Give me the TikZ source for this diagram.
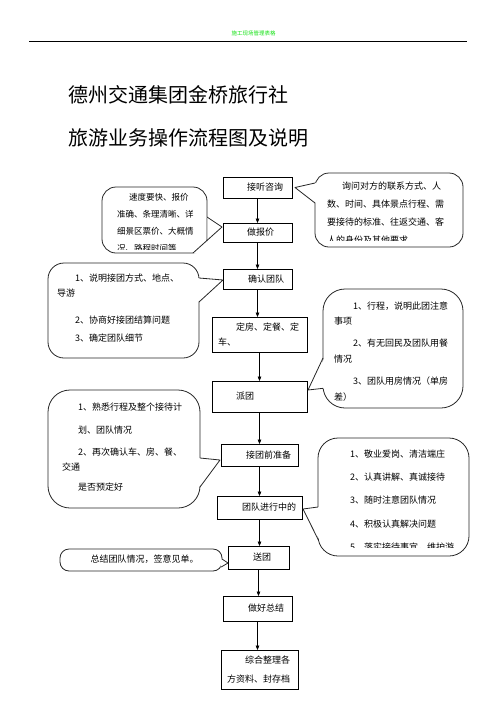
\documentclass[tikz,border=0pt]{standalone}
\usepackage{fontspec}
\setmainfont{Noto Sans CJK SC}
\usetikzlibrary{arrows.meta,calc}
\definecolor{headgreen}{RGB}{20,225,20}
\newcommand{\boxfont}{\fontsize{9}{15}\selectfont}
\newcommand{\bubfont}{\fontsize{9}{15.5}\selectfont}
\tikzset{
  flowbox/.style={draw=black, line width=0.8pt, inner xsep=6pt, inner ysep=0pt, outer sep=0pt, align=left, font=\boxfont},
  bubble/.style={draw=black!85, line width=0.8pt, fill=white, inner sep=0pt, outer sep=0pt},
  bubtext/.style={anchor=north west, inner sep=0pt, align=left, font=\bubfont},
  tipline/.style={draw=black!85, line width=0.8pt, line join=round},
  flowarrow/.style={line width=0.7pt, -{Triangle[length=4.5pt,width=3.6pt]}},
  titletext/.style={anchor=west, inner sep=0pt, font=\fontsize{20}{20}\selectfont}
}
\begin{document}
\begin{tikzpicture}[x=1pt,y=-1pt]
  \useasboundingbox (0,0) rectangle (496,702);

  % header and titles
  \node[font=\fontsize{5.5}{6}\selectfont, text=headgreen, inner sep=0pt] (headtext) at (253.5,33) {施工现场管理表格};
  \draw[line width=0.7pt] (29,41) -- (467,41);
  \node[titletext] (title1) at (68,95) {德州交通集团金桥旅行社};
  \node[titletext] (title2) at (68,138) {旅游业务操作流程图及说明};

  % flow boxes
  \node[flowbox, text width=57pt, minimum height=21pt] (ask) at (257.5,187.5) {\hspace*{18pt}接听咨询};
  \node[flowbox, text width=57pt, minimum height=19pt] (price) at (257.5,232.5) {\hspace*{18pt}做报价};
  \node[flowbox, text width=57pt, minimum height=20pt] (confirm) at (257.5,279) {\hspace*{19pt}确认团队};
  \node[flowbox, text width=83pt, minimum height=35pt] (book) at (259.5,334.5) {\hspace*{18pt}定房、定餐、定\\车、};
  \node[flowbox, text width=83pt, minimum height=31pt] (dispatch) at (259.5,396.5) {\hspace*{18pt}派团};
  \node[flowbox, text width=65pt, minimum height=22pt] (prepare) at (259.5,455) {\hspace*{19pt}接团前准备};
  \node[flowbox, text width=73pt, minimum height=23pt] (ongoing) at (259.5,507.5) {\hspace*{19pt}团队进行中的};
  \node[flowbox, text width=49pt, minimum height=23pt] (send) at (258.5,557.5) {\hspace*{19pt}送团};
  \node[flowbox, text width=57pt, minimum height=25pt] (summary) at (257.5,608.5) {\hspace*{19pt}做好总结};
  \node[flowbox, text width=65pt, minimum height=39pt, font=\fontsize{9}{19}\selectfont] (archive) at (259.5,669.5) {\hspace*{18pt}综合整理各\\方资料、封存档};

  \draw[flowarrow] (ask.south) -- (ask.south |- price.north);
  \draw[flowarrow] (price.south) -- (price.south |- confirm.north);
  \draw[flowarrow] (confirm.south) -- (confirm.south |- book.north);
  \draw[flowarrow] (book.south) -- (book.south |- dispatch.north);
  \draw[flowarrow] (dispatch.south) -- (dispatch.south |- prepare.north);
  \draw[flowarrow] (prepare.south) -- (prepare.south |- ongoing.north);
  \draw[flowarrow] (ongoing.south) -- (ongoing.south |- send.north);
  \draw[flowarrow] (send.south) -- (send.south |- summary.north);
  \draw[flowarrow] (summary.south) -- (summary.south |- archive.north);

  % callout: quote
  \node[bubble, rounded corners=14pt, minimum width=105pt, minimum height=66pt] (bquote) at (154.5,220) {};
  \begin{scope}
    \clip (bquote.north west) rectangle ($(bquote.south east)+(0,-3.5)$);
    \node[bubtext, font=\fontsize{8.5}{17}\selectfont] (tquote) at (117,193.5) {\hspace*{12pt}速度要快、报价\\准确、条理清晰、详\\细景区票价、大概情\\况、路程时间等};
  \end{scope}
  \coordinate (quoteTip) at (222,227);
  \fill[white] (206,217) -- (quoteTip) -- (193,253.6) -- (207.6,253.6) -- (207.6,217) -- cycle;
  \draw[tipline] (bquote.east |- 0,217) -- (quoteTip) -- (193,253);

  % callout: ask
  \node[bubble, rounded corners=14pt, minimum width=148pt, minimum height=74pt] (basks) at (389,210) {};
  \begin{scope}
    \clip (basks.north west) rectangle ($(basks.south east)+(0,-6.5)$);
    \node[bubtext, font=\fontsize{9}{18}\selectfont] (tasks) at (327,181.5) {\hspace*{15pt}询问对方的联系方式、人\\数、时间、具体景点行程、需\\要接待的标准、往返交通、客\\人的身份及其他要求};
  \end{scope}
  \coordinate (askTip) at (295,187.5);
  \fill[white] (316,183) -- (askTip) -- (316,203) -- cycle;
  \draw[tipline] (315,183) -- (askTip) -- (315,203);

  % callout: confirm
  \node[bubble, rounded corners=16pt, minimum width=151pt, minimum height=95pt] (bconfirm) at (123.5,310.5) {};
  \node[bubtext] (tconfirm) at (57,273.5) {\hspace*{18pt}1、说明接团方式、地点、\\导游\\[11.5pt]\hspace*{18pt}2、协商好接团结算问题\\[2.5pt]\hspace*{18pt}3、确定团队细节};
  \coordinate (confirmTip) at (223,280);
  \fill[white] (198,278) -- (confirmTip) -- (198,302) -- cycle;
  \draw[tipline] (199,278) -- (confirmTip) -- (199,302);

  % callout: dispatch
  \node[bubble, rounded corners=22pt, minimum width=140pt, minimum height=119pt] (bdispatch) at (393,348.5) {};
  \node[bubtext] (tdispatch) at (334,301.5) {\hspace*{19pt}1、行程，说明此团注意\\事项\\[6.5pt]\hspace*{19pt}2、有无回民及团队用餐\\情况\\[7pt]\hspace*{19pt}3、团队用房情况（单房\\差）};
  \coordinate (dispatchTip) at (308,390);
  \fill[white] (324.5,358) -- (dispatchTip) -- (324.5,388.4) -- cycle;
  \draw[tipline] (323,358) -- (dispatchTip) -- (323.2,388.3);

  % callout: prepare
  \node[bubble, rounded corners=22pt, minimum width=152pt, minimum height=118pt] (bprepare) at (124,449) {};
  \node[bubtext] (tprepare) at (62,402.5) {\hspace*{16pt}1、熟悉行程及整个接待计\\[8pt]\hspace*{16pt}划、团队情况\\[6pt]\hspace*{16pt}2、再次确认车、房、餐、\\交通\\[4pt]\hspace*{16pt}是否预定好};
  \coordinate (prepareTip) at (220,460);
  \fill[white] (199,458) -- (prepareTip) -- (199,487) -- cycle;
  \draw[tipline] (200,458) -- (prepareTip) -- (200,487);

  % callout: ongoing
  \node[bubble, rounded corners=20pt, minimum width=151pt, minimum height=118pt] (bongoing) at (393.5,497) {};
  \begin{scope}
    \clip (bongoing.north west) rectangle ($(bongoing.south east)+(0,-9)$);
    \node[bubtext, font=\fontsize{9}{23.3}\selectfont] (tongoing) at (350,449.5) {1、敬业爱岗、清洁端庄\\2、认真讲解、真诚接待\\3、随时注意团队情况\\4、积极认真解决问题\\5、落实接待事宜，维护游};
  \end{scope}
  \coordinate (ongoingTip) at (303,509);
  \fill[white] (319.5,507) -- (ongoingTip) -- (319.5,540) -- cycle;
  \draw[tipline] (318,507) -- (ongoingTip) -- (318.4,540);

  % callout: send
  \node[bubble, rounded corners=9pt, minimum width=162pt, minimum height=22pt, font=\bubfont] (bsend) at (141,560) {};
  \node[font=\bubfont, inner sep=0pt] (tsend) at (144.5,559) {总结团队情况，签意见单。};
  \coordinate (sendTip) at (228,563);
  \fill[white] (220.8,559) -- (sendTip) -- (220.5,567) -- cycle;
  \draw[tipline] (222,559) -- (sendTip) -- (221.2,567);
\end{tikzpicture}
\end{document}
